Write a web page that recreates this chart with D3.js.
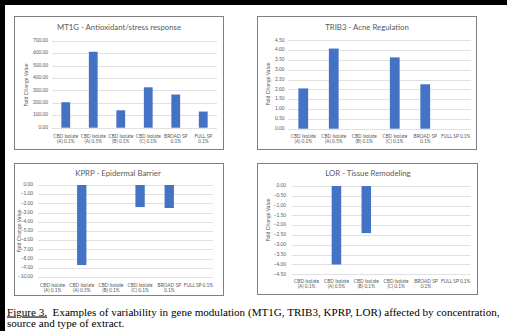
<!DOCTYPE html>
<html><head><meta charset="utf-8">
<script src="https://cdn.jsdelivr.net/npm/d3@7"></script>
<style>body{margin:0;background:#fff}svg{display:block}</style>
</head><body>
<script>
// ---- data ----
const categories = ["CBD Isolate (A) 0.1%","CBD Isolate (A) 0.5%","CBD Isolate (B) 0.1%","CBD Isolate (C) 0.1%","BROAD SP 0.1%","FULL SP 0.1%"];
const labelsTwoLine = [["CBD Isolate","(A) 0.1%"],["CBD Isolate","(A) 0.5%"],["CBD Isolate","(B) 0.1%"],["CBD Isolate","(C) 0.1%"],["BROAD SP","0.1%"],["FULL SP","0.1%"]];
const labelsFullOneLine = [["CBD Isolate","(A) 0.1%"],["CBD Isolate","(A) 0.5%"],["CBD Isolate","(B) 0.1%"],["CBD Isolate","(C) 0.1%"],["BROAD SP","0.1%"],["FULL SP 0.1%",""]];
const mt1gValues = [205, 611, 140, 325, 267, 130];
const trib3Values = [2.05, 4.08, 0, 3.63, 2.26, 0];
const kprpValues = [0, -8.7, 0, -2.4, -2.5, 0];
const lorValues = [0, -4.0, -2.4, 0, 0, 0];
const mt1gTicks = [0,100,200,300,400,500,600,700];
const trib3Ticks = [0,0.5,1,1.5,2,2.5,3,3.5,4,4.5];
const kprpTicks = [0,-1,-2,-3,-4,-5,-6,-7,-8,-9,-10];
const lorTicks = [0,-0.5,-1,-1.5,-2,-2.5,-3,-3.5,-4,-4.5];
const titles = ["MT1G - Antioxidant/stress response","TRIB3 - Acne Regulation","KPRP - Epidermal Barrier","LOR - Tissue Remodeling"];
const captionLine1 = "Examples of variability in gene modulation (MT1G, TRIB3, KPRP, LOR) affected by concentration,";
const captionLine2 = "source and type of extract.";

const W = 507, H = 331;
const svg = d3.select("body").append("svg").attr("width", W).attr("height", H);
const FONT = "Lato, 'Open Sans', sans-serif";
const GREY = "#595959";
const BAR = "#4472C4";

// black scan frame
svg.append("rect").attr("x",0).attr("y",0).attr("width",W).attr("height",5).attr("fill","#000");
svg.append("rect").attr("x",0).attr("y",0).attr("width",5).attr("height",H).attr("fill","#000");

function panel(cfg) {
  const g = svg.append("g");
  g.append("rect").attr("x",cfg.box[0]).attr("y",cfg.box[1])
    .attr("width",cfg.box[2]-cfg.box[0]).attr("height",cfg.box[3]-cfg.box[1])
    .attr("fill","#fff").attr("stroke","#7f7f7f").attr("stroke-width",1);
  g.append("text").attr("x",cfg.titleX).attr("y",cfg.titleY).attr("text-anchor","middle")
    .attr("dominant-baseline","middle").attr("font-family",FONT).attr("font-size",7.8)
    .attr("fill",GREY).text(cfg.title);
  const y = d3.scaleLinear().domain(cfg.domain).range(cfg.yRange);
  const x = d3.scaleBand().domain(categories).range(cfg.xRange).paddingInner(0.68).paddingOuter(0.34);
  // gridlines
  g.selectAll(".grid").data(cfg.ticks).join("line")
    .attr("x1",cfg.xRange[0]).attr("x2",cfg.xRange[1])
    .attr("y1",d=>Math.round(y(d))+0.5).attr("y2",d=>Math.round(y(d))+0.5)
    .attr("stroke","#d9d9d9").attr("stroke-width",0.8);
  // tick labels
  g.selectAll(".tl").data(cfg.ticks).join("text")
    .attr("x",cfg.labelX).attr("y",d=>y(d)).attr("text-anchor","end")
    .attr("dominant-baseline","middle").attr("font-family",FONT).attr("font-size",4.8)
    .attr("fill",GREY).text(d=>d3.format(".2f")(d));
  // y title
  g.append("text").attr("transform",`translate(${cfg.yTitleX},${cfg.yTitleY}) rotate(-90)`)
    .attr("text-anchor","middle").attr("dominant-baseline","middle")
    .attr("font-family",FONT).attr("font-size",5.3).attr("fill",GREY).text("Fold Change Value");
  // bars
  g.selectAll(".bar").data(cfg.values.map((v,i)=>({c:categories[i],v}))).join("rect")
    .attr("x",d=>x(d.c)).attr("width",x.bandwidth())
    .attr("y",d=>Math.min(y(d.v),y(0))).attr("height",d=>Math.abs(y(d.v)-y(0)))
    .attr("fill",BAR);
  // x labels
  const xl = g.selectAll(".xl").data(cfg.labels.map((l,i)=>({c:categories[i],l}))).join("text")
    .attr("text-anchor","middle").attr("font-family",FONT).attr("font-size",4.8).attr("fill",GREY);
  xl.append("tspan").attr("x",d=>x(d.c)+x.bandwidth()/2).attr("y",cfg.xLabelY[0]).attr("dominant-baseline","middle").text(d=>d.l[0]);
  xl.append("tspan").attr("x",d=>x(d.c)+x.bandwidth()/2).attr("y",cfg.xLabelY[1]).attr("dominant-baseline","middle").text(d=>d.l[1]);
}

panel({box:[14.5,16.5,223.5,149.5], title:titles[0], titleX:119, titleY:28.5,
  domain:[0,700], yRange:[127.7,40.7], xRange:[52,217], ticks:mt1gTicks, values:mt1gValues,
  labelX:48, yTitleX:27, yTitleY:85, labels:labelsTwoLine, xLabelY:[136.3,142]});
panel({box:[257.5,16.5,476.5,149.5], title:titles[1], titleX:367, titleY:28.5,
  domain:[0,4.5], yRange:[128.7,40.3], xRange:[288,471], ticks:trib3Ticks, values:trib3Values,
  labelX:284.5, yTitleX:269, yTitleY:84, labels:labelsFullOneLine, xLabelY:[136.5,142.2]});
panel({box:[14.5,163.5,223.5,295.5], title:titles[2], titleX:118, titleY:174.5,
  domain:[-10,0], yRange:[277,185], xRange:[38,213], ticks:kprpTicks, values:kprpValues,
  labelX:33, yTitleX:20, yTitleY:231, labels:labelsFullOneLine, xLabelY:[285.3,291]});
panel({box:[257.5,163.5,477.5,294.5], title:titles[3], titleX:368, titleY:174,
  domain:[-4.5,0], yRange:[274.3,186], xRange:[291.7,470.7], ticks:lorTicks, values:lorValues,
  labelX:286, yTitleX:269, yTitleY:220, labels:labelsFullOneLine, xLabelY:[281.3,287]});

// caption
const cap = svg.append("text").attr("font-family","'Liberation Serif','Times New Roman',serif")
  .attr("font-size",11.1).attr("fill","#000");
cap.append("tspan").attr("x",7).attr("y",315.5).attr("text-decoration","underline").text("Figure 3.");
cap.append("tspan").text("\u00a0 " + captionLine1);
svg.append("text").attr("font-family","'Liberation Serif','Times New Roman',serif")
  .attr("font-size",11.1).attr("fill","#000").attr("x",7).attr("y",326.8).text(captionLine2);
</script>
</body></html>
